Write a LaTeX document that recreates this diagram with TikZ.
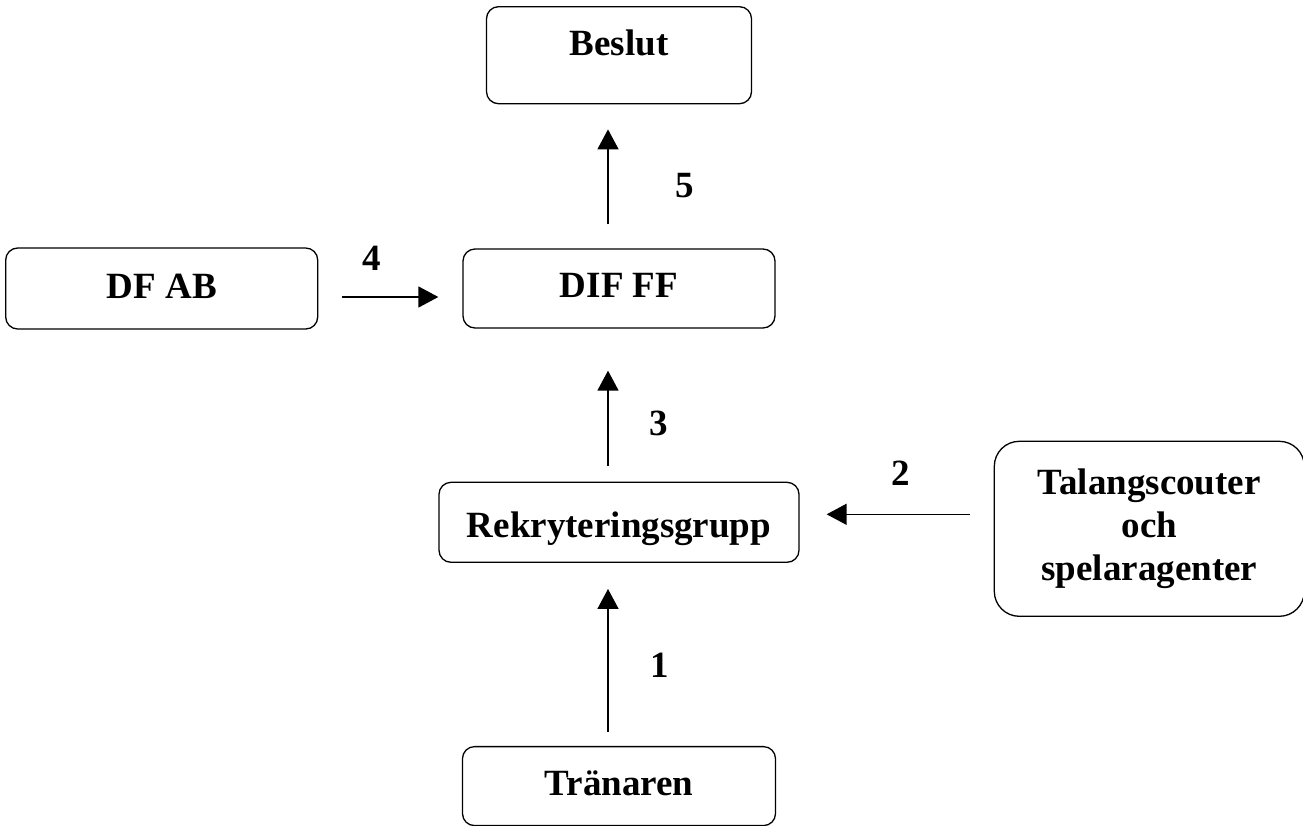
\documentclass[tikz,border=0pt]{standalone}
\usepackage{fontspec}
\setmainfont{Liberation Serif}
\usetikzlibrary{arrows.meta}
\usetikzlibrary {positioning}
\tikzset{main node/.style={rectangle,rounded corners=12pt,draw,line width=1.3pt,inner sep=0pt,font=\fontsize{37}{43}\selectfont\bfseries}}
\tikzset{num node/.style={anchor=base,inner sep=0pt,font=\fontsize{37}{43}\selectfont\bfseries}}
\tikzset{flow/.style={->,line width=1.5pt}}

\begin{document}
\begin{tikzpicture}[x=1pt,y=-1pt,>={Triangle[width=21pt,length=20pt]}]
    \useasboundingbox (0,0) rectangle (1303,825);
    	\node[main node,minimum width=312pt,text height=48pt,text depth=31pt] (dif) at (619,288.5) {DIF FF};
    	\node[main node,minimum width=265pt,text height=49pt,text depth=48pt] (beslut) [above = 144pt of dif] {Beslut};
    	\node[main node,minimum width=312pt,text height=50pt,text depth=31pt] (dfab) [left = 144pt of dif] {DF AB};
    	\node[main node,minimum width=360pt,text height=55pt,text depth=25pt] (rekrytering) [below = 153pt of dif] {Rekryteringsgrupp};
    	\node[main node,minimum width=313pt,text height=49pt,text depth=30pt] (tranaren) [below = 183pt of rekrytering] {Tränaren};
    	\node[main node,minimum width=310pt,minimum height=175pt,rounded corners=25pt,align=center] (talang) [right = 194pt of rekrytering, yshift=-6.5pt] {Talangscouter\\och\\spelaragenter};
    
    	\coordinate (a4) at ([yshift=-8.5pt]dfab.east);
    	\coordinate (a2) at ([yshift=8pt]rekrytering.east);
    	\draw[flow,shorten <=24pt,shorten >=25pt] ([xshift=-11pt]dif.north) -- ([xshift=-11pt]beslut.south);
    	\draw[flow,shorten <=16pt,shorten >=42pt] ([xshift=-11pt]rekrytering.north) -- ([xshift=-11pt]dif.south);
    	\draw[flow,shorten <=14pt,shorten >=26pt] ([xshift=-11pt]tranaren.north) -- ([xshift=-11pt]rekrytering.south);
    	\draw[flow,shorten <=24pt,shorten >=24pt] (a4) -- (dif.west |- a4);
    	\draw[flow,shorten <=24pt,shorten >=27pt] (talang.west |- a2) -- (a2);
    
    	\node[num node] (n5) at (685,197) {5};
    	\node[num node] (n4) at (372,270) {4};
    	\node[num node] (n3) at (659,435) {3};
    	\node[num node] (n2) at (901,485) {2};
    	\node[num node] (n1) at (660,677) {1};
\end{tikzpicture}
\end{document}
